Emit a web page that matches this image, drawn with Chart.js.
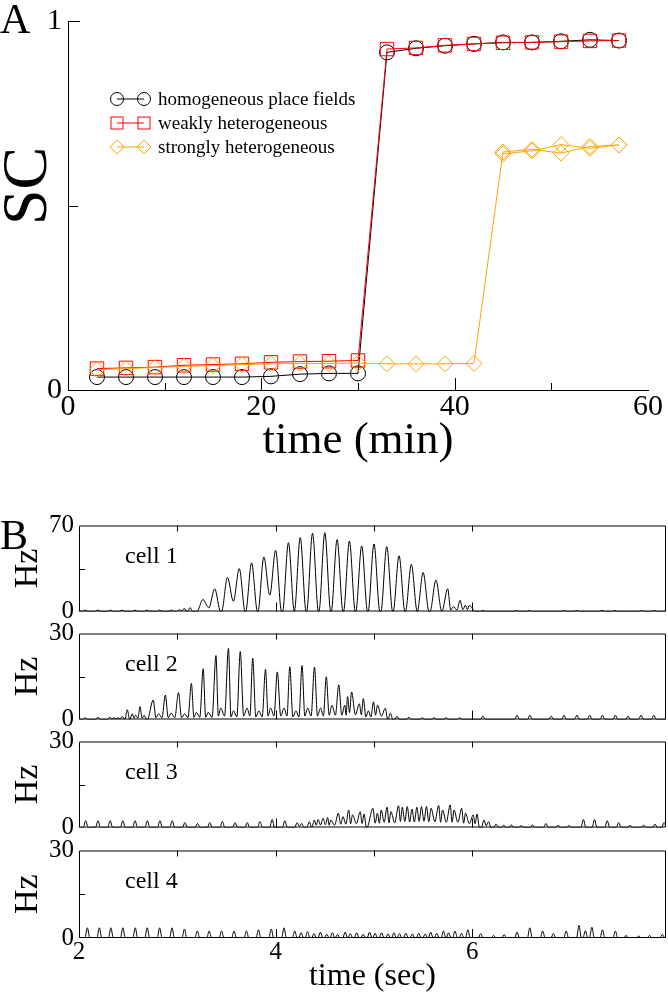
<!DOCTYPE html>
<html>
<head>
<meta charset="utf-8">
<title>SC and cell rates</title>
<script src="https://cdn.jsdelivr.net/npm/chart.js@4.4.1/dist/chart.umd.min.js"></script>
<style>
  body { margin: 0; background: #fff; }
  #page { position: relative; width: 668px; height: 995px; overflow: hidden;
          font-family: 'Liberation Serif', 'DejaVu Serif', serif; color: #000; }
  canvas { position: absolute; left: 0; }
  .lbl { position: absolute; line-height: 1; white-space: nowrap; }
  #scTitle { left: -8px; top: 160px; width: 66px; height: 64px; font-size: 64px; text-align: center;
             transform: rotate(-90deg); }
  #legend { position: absolute; left: 107px; top: 87px; font-size: 19px; }
  #legend .row { display: flex; align-items: center; height: 24px; }
  #legend svg { flex: none; }
</style>
</head>
<body>
<div id="page">
  <canvas id="chartA" width="668" height="470" style="top:0"></canvas>
  <canvas id="cell1" width="668" height="121" style="top:508px"></canvas>
  <canvas id="cell2" width="668" height="121" style="top:616px"></canvas>
  <canvas id="cell3" width="668" height="121" style="top:724px"></canvas>
  <canvas id="cell4" width="668" height="162" style="top:833px"></canvas>

  <div class="lbl" style="left:0;top:-2px;font-size:42px">A</div>
  <div class="lbl" style="left:0;top:514px;font-size:42px">B</div>
  <div class="lbl" id="scTitle">SC</div>

  <div id="legend">
    <div class="row">
      <svg width="51" height="24"><line x1="10" y1="12" x2="37" y2="12" stroke="#000"/>
        <circle cx="10" cy="12" r="6.5" fill="none" stroke="#000"/><circle cx="37" cy="12" r="6.5" fill="none" stroke="#000"/></svg>
      <span>homogeneous place fields</span>
    </div>
    <div class="row">
      <svg width="51" height="24"><line x1="10" y1="12" x2="37" y2="12" stroke="#ff0000"/>
        <rect x="4" y="6" width="12" height="12" fill="none" stroke="#ff0000"/><rect x="31" y="6" width="12" height="12" fill="none" stroke="#ff0000"/></svg>
      <span>weakly heterogeneous</span>
    </div>
    <div class="row">
      <svg width="51" height="24"><line x1="10" y1="12" x2="37" y2="12" stroke="#ffa500"/>
        <path d="M3 12 L10 5 L17 12 L10 19 Z M30 12 L37 5 L44 12 L37 19 Z" fill="none" stroke="#ffa500"/></svg>
      <span>strongly heterogeneous</span>
    </div>
  </div>

  <div class="lbl" style="left:125px;top:543px;font-size:24px">cell 1</div>
  <div class="lbl" style="left:125px;top:651px;font-size:24px">cell 2</div>
  <div class="lbl" style="left:125px;top:759px;font-size:24px">cell 3</div>
  <div class="lbl" style="left:125px;top:868px;font-size:24px">cell 4</div>
</div>

<script>
// ======================
// PANEL A DATA (SC vs time)
// ======================
const timeMin = [3, 6, 9, 12, 15, 18, 21, 24, 27, 30, 33, 36, 39, 42, 45, 48, 51, 54, 57];
const scHomogeneous = [0.035, 0.035, 0.035, 0.035, 0.035, 0.035, 0.037, 0.043, 0.045, 0.045,
                       0.915, 0.926, 0.933, 0.938, 0.942, 0.942, 0.945, 0.949, 0.947];
const scWeakly = [0.058, 0.060, 0.062, 0.067, 0.069, 0.071, 0.075, 0.077, 0.078, 0.080,
                  0.924, 0.927, 0.934, 0.938, 0.941, 0.942, 0.944, 0.946, 0.947];
const scStrongly = [0.055, 0.058, 0.061, 0.064, 0.066, 0.069, 0.071, 0.072, 0.072, 0.073,
                    0.071, 0.071, 0.071, 0.072, 0.645, 0.652, 0.642, 0.660, 0.664];
// second, slightly offset run of the strongly heterogeneous case
const timeMinRepeat = [45, 48, 51, 54, 57];
const scStronglyRepeat = [0.640, 0.648, 0.665, 0.655, 0.664];

const timeTicksA = [0, 20, 40, 60];
const scTicks = [0, 1];

// ======================
// PANEL B DATA (peak times in sec, peak rates in Hz)
// ======================
const cell1Times = [2.06, 2.19, 2.32, 2.44, 2.57, 2.69, 2.82, 2.94, 3.02, 3.07, 3.13, 3.26, 3.38, 3.51, 3.63,
                    3.755, 3.88, 4.0, 4.13, 4.25, 4.375, 4.50, 4.625, 4.75, 4.875, 5.0, 5.13, 5.255, 5.38,
                    5.50, 5.63, 5.75, 5.81, 5.876, 5.93, 5.97, 6.11, 6.45, 6.58, 6.93, 7.06, 7.32, 7.45, 7.72, 7.85];
const cell1Rates = [1.2, 1.2, 1.2, 1.2, 1.2, 1.2, 1.2, 1.2, 1.5, 2.5, 3.2, 9.8, 18.5, 27.7, 34.9,
                    39.6, 44.4, 49.7, 56, 60.2, 63.7, 64.2, 58.6, 57.3, 53.4, 55, 52.8, 45.4, 38.3,
                    31.7, 25.6, 18.5, 4, 9.2, 5, 5, 0.8, 0.8, 0.8, 0.8, 0.8, 0.8, 0.8, 0.8, 0.8];

const cell2Times = [2.062, 2.192, 2.312, 2.354, 2.398, 2.439, 2.491, 2.542, 2.577, 2.621, 2.662, 2.755, 2.810,
                    2.878, 2.937, 3.012, 3.074, 3.143, 3.194, 3.263, 3.314, 3.393, 3.441, 3.520, 3.571, 3.640,
                    3.709, 3.767, 3.829, 3.897, 3.949, 4.017, 4.086, 4.144, 4.206, 4.268, 4.326, 4.395, 4.456,
                    4.515, 4.573, 4.642, 4.703, 4.731, 4.772, 4.851, 4.892, 4.943, 4.995, 5.036, 5.115, 5.167,
                    5.235, 5.355, 5.492, 5.612, 5.733, 5.87, 6.107, 6.455, 6.585, 6.803, 6.933, 7.064, 7.194,
                    7.324, 7.455, 7.585, 7.716, 7.846];
const cell2Rates = [0.6, 0.8, 0.8, 0.6, 0.6, 1.1, 3.4, 2, 1.5, 4.5, 1.5, 6.8, 2,
                    8.5, 2.2, 9.4, 2, 12.6, 2.5, 17.7, 2.5, 22.3, 4, 24.8, 3, 23.7,
                    4, 21.4, 3, 17.5, 4, 16.6, 4, 18.4, 3, 18.8, 4, 18.3, 4,
                    14.9, 5, 12.1, 5, 8, 9.6, 5.5, 7.3, 3, 6.2, 5, 3.9, 2.2,
                    1.1, 0.8, 0.6, 0.6, 0.6, 0.6, 1.2, 1.5, 1.5, 1.2, 1.5, 1.5, 1.5,
                    1.5, 1.5, 1.2, 1.5, 1.5];

const cell3Times = [2.068, 2.193, 2.317, 2.446, 2.57, 2.695, 2.823, 2.948, 3.077, 3.205, 3.33, 3.458, 3.587,
                    3.711, 3.84, 3.964, 4.093, 4.218, 4.264, 4.342, 4.393, 4.432, 4.482, 4.529, 4.560, 4.638,
                    4.685, 4.743, 4.782, 4.86, 4.899, 4.989, 5.035, 5.074, 5.133, 5.172, 5.25, 5.288, 5.339,
                    5.386, 5.436, 5.483, 5.534, 5.581, 5.658, 5.697, 5.775, 5.814, 5.892, 5.931, 6.009, 6.048,
                    6.118, 6.165, 6.242, 6.32, 6.398, 6.496, 6.612, 6.749, 6.873, 6.982, 7.13, 7.243, 7.372,
                    7.489, 7.605, 7.742, 7.858, 7.95];
const cell3Rates = [2.4, 2.4, 2.4, 2.4, 2.4, 2.4, 2.4, 2.4, 1.7, 1.4, 1.7, 2.1, 1.7,
                    1.7, 2.1, 2.8, 2.4, 1.7, 1.4, 2.0, 2.6, 2.8, 3.2, 3.5, 2.6, 5.0,
                    3.8, 6.1, 4.4, 5.5, 4.7, 6.7, 5.0, 6.1, 7.1, 5.5, 7.6, 7.1, 7.3,
                    6.4, 7.1, 7.3, 7.3, 6.7, 7.7, 6.1, 7.9, 6.1, 6.7, 5.0, 4.4, 4.7,
                    2.6, 2.0, 1.2, 0.8, 0.9, 0.7, 0.9, 1.4, 0.8, 0.7, 2.8, 2.8, 2.4,
                    1.7, 0.8, 0.8, 1.2, 1.7];

const cell4Times = [2.085, 2.207, 2.324, 2.446, 2.572, 2.694, 2.82, 2.946, 3.072, 3.203, 3.324, 3.45, 3.577,
                    3.703, 3.825, 3.955, 4.085, 4.194, 4.259, 4.324, 4.39, 4.455, 4.52, 4.577, 4.629, 4.707,
                    4.759, 4.824, 4.89, 4.955, 5.011, 5.077, 5.142, 5.203, 5.259, 5.324, 5.39, 5.455, 5.52,
                    5.577, 5.638, 5.707, 5.759, 5.824, 5.89, 5.955, 6.085, 6.216, 6.324, 6.455, 6.585, 6.716,
                    6.824, 6.955, 7.085, 7.15, 7.216, 7.324, 7.455, 7.564, 7.694, 7.803, 7.933];
const cell4Rates = [3.5, 3.5, 3.5, 3.5, 3.5, 3.5, 3.5, 3.5, 3.1, 2.4, 2.4, 2.4, 2.4,
                    2.4, 2.8, 3.1, 3.5, 2.4, 1.8, 2.2, 1.5, 2.0, 1.3, 1.8, 1.2, 2.0,
                    1.5, 1.8, 1.3, 2.0, 1.6, 1.8, 1.4, 1.8, 1.5, 1.6, 1.4, 1.6, 1.4,
                    2.0, 1.6, 2.4, 1.8, 2.4, 1.6, 2.8, 1.5, 0.9, 1.2, 2.0, 3.5, 2.4,
                    1.5, 2.4, 4.3, 2.5, 3.7, 2.8, 2.4, 0.9, 0.7, 0.9, 1.2];

const timeTicksB = [2, 4, 6];

// ======================
// HELPERS
// ======================
const serif = "'Liberation Serif', 'DejaVu Serif', serif";
Chart.defaults.font.family = serif;
Chart.defaults.color = '#000';

// turns the read peaks into a line: each peak sits on a zero baseline
function spikeTrace(times, rates) {
    const pts = [{ x: 2, y: 0 }];
    let last = null;
    times.forEach((t, i) => {
        const h = rates[i];
        const w = h >= 5 ? 0.06 : 0.025;
        const prev = pts[pts.length - 1];
        if (last && t - w <= prev.x) {
            pts.pop();
            pts.push({ x: (last.x + t) / 2, y: Math.min(last.y, h) * 0.3 });
        } else {
            pts.push({ x: t - w, y: 0 });
        }
        last = { x: t, y: h };
        pts.push(last, { x: t + w, y: 0 });
    });
    pts.push({ x: 8, y: 0 });
    return pts;
}

// inward tick marks and optional frame, placed through the chart's scales
const axisTicks = {
    id: 'axisTicks',
    afterDatasetsDraw(chart, args, opts) {
        const { ctx, chartArea: a, scales: { x, y } } = chart;
        ctx.save();
        ctx.strokeStyle = '#000';
        ctx.lineWidth = 1;
        ctx.beginPath();
        if (opts.frame) {
            ctx.rect(a.left + 0.5, a.top + 0.5, a.right - a.left - 1, a.bottom - a.top - 1);
        }
        (opts.bottom || []).forEach(([v, len]) => {
            const px = Math.round(x.getPixelForValue(v)) + 0.5;
            ctx.moveTo(px, a.bottom);
            ctx.lineTo(px, a.bottom - len);
        });
        (opts.top || []).forEach(([v, len]) => {
            const px = Math.round(x.getPixelForValue(v)) + 0.5;
            ctx.moveTo(px, a.top);
            ctx.lineTo(px, a.top + len);
        });
        (opts.left || []).forEach(([v, len]) => {
            const py = Math.round(y.getPixelForValue(v)) + 0.5;
            ctx.moveTo(a.left, py);
            ctx.lineTo(a.left + len, py);
        });
        ctx.stroke();
        ctx.restore();
    }
};

function toPoints(xs, ys) {
    return xs.map((x, i) => ({ x: x, y: ys[i] }));
}

// ======================
// PANEL A
// ======================
new Chart(document.getElementById('chartA'), {
    type: 'line',
    data: {
        datasets: [
            {
                label: 'homogeneous place fields',
                data: toPoints(timeMin, scHomogeneous),
                borderColor: '#000', borderWidth: 1,
                pointStyle: 'circle', pointRadius: 7.5, pointBorderColor: '#000',
                pointBackgroundColor: 'rgba(0,0,0,0)', pointBorderWidth: 1,
                order: 2
            },
            {
                label: 'weakly heterogeneous',
                data: toPoints(timeMin, scWeakly),
                borderColor: '#ff0000', borderWidth: 1,
                pointStyle: 'rect', pointRadius: 9.5, pointBorderColor: '#ff0000',
                pointBackgroundColor: 'rgba(0,0,0,0)', pointBorderWidth: 1,
                order: 1
            },
            {
                label: 'strongly heterogeneous',
                data: toPoints(timeMin, scStrongly),
                borderColor: '#ffa500', borderWidth: 1,
                pointStyle: 'rectRot', pointRadius: 8, pointBorderColor: '#ffa500',
                pointBackgroundColor: 'rgba(0,0,0,0)', pointBorderWidth: 1,
                order: 0
            },
            {
                label: 'strongly heterogeneous (repeat)',
                data: toPoints(timeMinRepeat, scStronglyRepeat),
                borderColor: '#ffa500', borderWidth: 1,
                pointStyle: 'rectRot', pointRadius: 8, pointBorderColor: '#ffa500',
                pointBackgroundColor: 'rgba(0,0,0,0)', pointBorderWidth: 1,
                order: 0
            }
        ]
    },
    options: {
        responsive: false,
        animation: false,
        events: [],
        layout: { padding: { left: 0, top: 15, right: 20, bottom: 6 } },
        plugins: {
            legend: { display: false },
            tooltip: { enabled: false },
            axisTicks: {
                bottom: [[10, 7], [20, 12], [30, 7], [40, 12], [50, 7]],
                left: [[0.5, 10], [1, 12]]
            }
        },
        scales: {
            x: {
                type: 'linear', min: 0, max: 60,
                afterFit: s => { s.height = 74; },
                afterBuildTicks: s => { s.ticks = timeTicksA.map(v => ({ value: v })); },
                grid: { display: false, drawTicks: false },
                border: { display: true, color: '#000', width: 1 },
                ticks: { color: '#000', padding: 2, maxRotation: 0, font: { size: 30, lineHeight: 1 } },
                title: { display: true, text: 'time (min)', color: '#000', padding: 0,
                         font: { size: 45, lineHeight: 1 } }
            },
            y: {
                min: 0, max: 1,
                afterFit: s => { s.width = 68; },
                afterBuildTicks: s => { s.ticks = scTicks.map(v => ({ value: v })); },
                grid: { display: false, drawTicks: false },
                border: { display: true, color: '#000', width: 1 },
                ticks: { color: '#000', padding: 6, font: { size: 30, lineHeight: 1 } }
            }
        }
    },
    plugins: [axisTicks]
});

// ======================
// PANEL B
// ======================
function dibujarCelda(id, times, rates, yMax, withTimeAxis) {
    new Chart(document.getElementById(id), {
        type: 'line',
        data: {
            datasets: [{
                data: spikeTrace(times, rates),
                borderColor: '#000',
                borderWidth: 1,
                pointRadius: 0,
                cubicInterpolationMode: 'monotone'
            }]
        },
        options: {
            responsive: false,
            animation: false,
            events: [],
            layout: { padding: { left: 0, top: 16, right: 2, bottom: withTimeAxis ? 0 : 16 } },
            plugins: {
                legend: { display: false },
                tooltip: { enabled: false },
                axisTicks: {
                    frame: true,
                    top: [[3, 6], [4, 6], [5, 6], [6, 6]],
                    bottom: [[4, 9], [6, 9]],
                    left: [[yMax / 2, 6]]
                }
            },
            scales: {
                x: {
                    type: 'linear', min: 2, max: 7.97,
                    display: withTimeAxis,
                    afterFit: s => { s.height = withTimeAxis ? 57 : 0; },
                    afterBuildTicks: s => { s.ticks = timeTicksB.map(v => ({ value: v })); },
                    grid: { display: false, drawTicks: false },
                    border: { display: false },
                    ticks: { color: '#000', padding: 2, maxRotation: 0, font: { size: 25, lineHeight: 1 } },
                    title: { display: true, text: 'time (sec)', color: '#000', padding: { top: 0, bottom: 2 },
                             font: { size: 32, lineHeight: 1 } }
                },
                y: {
                    min: 0, max: yMax,
                    afterFit: s => { s.width = 79; },
                    afterBuildTicks: s => { s.ticks = [{ value: 0 }, { value: yMax }]; },
                    grid: { display: false, drawTicks: false },
                    border: { display: false },
                    ticks: { color: '#000', padding: 5, font: { size: 25, lineHeight: 1 } },
                    title: { display: true, text: 'Hz', color: '#000', padding: { top: 11, bottom: 0 },
                             font: { size: 34, lineHeight: 1 } }
                }
            }
        },
        plugins: [axisTicks]
    });
}

dibujarCelda('cell1', cell1Times, cell1Rates, 70, false);
dibujarCelda('cell2', cell2Times, cell2Rates, 30, false);
dibujarCelda('cell3', cell3Times, cell3Rates, 30, false);
dibujarCelda('cell4', cell4Times, cell4Rates, 30, true);
</script>
</body>
</html>
